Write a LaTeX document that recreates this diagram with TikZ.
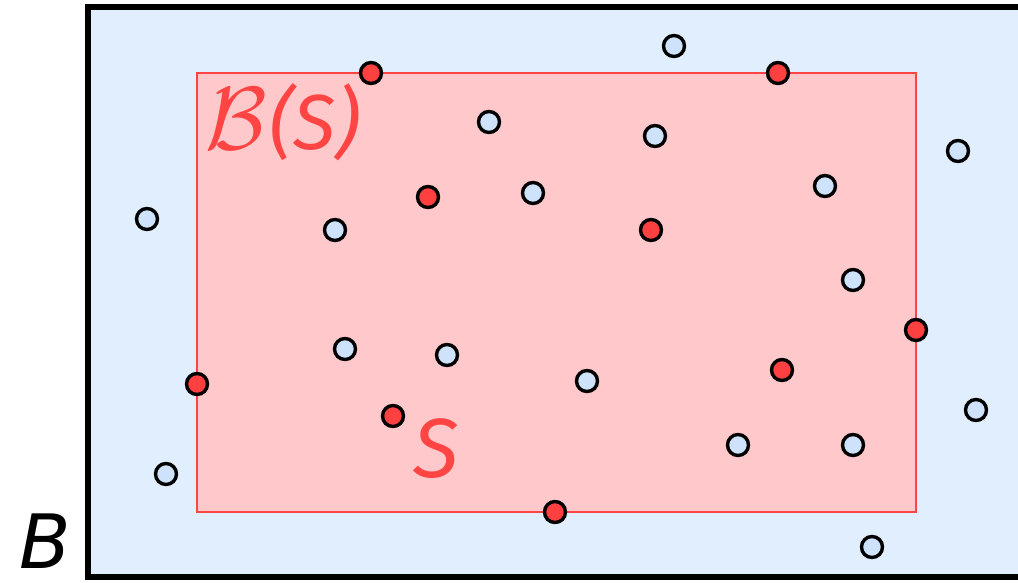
\documentclass[tikz,border=0pt]{standalone}
\usepackage{fontspec}
\usepackage{graphicx}
\newfontfamily\labelfont{DejaVu Sans}
\newfontfamily\setfont{Fira Sans}
\definecolor{boxblue}{HTML}{E1EEFD}
\definecolor{dotblue}{HTML}{CFE2FC}
\definecolor{setred}{HTML}{FF4444}
\definecolor{setfill}{HTML}{FFC9CB}
\definecolor{dotred}{HTML}{FF4040}
\tikzset{
  pt/.style={circle, draw=black, line width=3.4pt, minimum size=21pt, inner sep=0pt},
  bluept/.style={pt, fill=dotblue},
  redpt/.style={pt, fill=dotred},
}
\begin{document}
\begin{tikzpicture}[x=1pt, y=-1pt]
\useasboundingbox (0,0) rectangle (1018,582);
\begin{scope}
\clip (0,0) rectangle (1018,582);
% ambient box B, continuing past the right edge
\draw[line width=5.5pt, fill=boxblue] (88,7) rectangle (1040,577);
\end{scope}
% bounding box of S
\draw[line width=2pt, draw=setred, fill=setfill] (197,73) rectangle (916,512);
% labels
\node[text=setred, font=\setfont\itshape\fontsize{78}{78}\selectfont, inner sep=0pt] (bs) at (283,122)
  {\scalebox{3.6}{$\mathcal{B}$}\kern0.03em(S)};
\node[text=setred, font=\setfont\itshape\fontsize{84}{84}\selectfont, inner sep=0pt] (s) at (436,449) {S};
\node[font=\labelfont\itshape\fontsize{75}{75}\selectfont, inner sep=0pt] (b) at (45,541) {B};
% points outside S
\foreach \x/\y [count=\i] in {674/46, 489/122, 655/136, 958/151, 147/219, 533/193, 825/186, 335/230, 853/280, 345/349, 447/355, 587/381, 976/410, 166/474, 738/445, 853/445, 872/547}
  \node[bluept] (p\i) at (\x,\y) {};
% points of S
\foreach \x/\y [count=\i] in {371/73, 778/73, 428/197, 651/230, 916/330, 197/384, 782/370, 393/416, 555/512}
  \node[redpt] (s\i) at (\x,\y) {};
\end{tikzpicture}
\end{document}
